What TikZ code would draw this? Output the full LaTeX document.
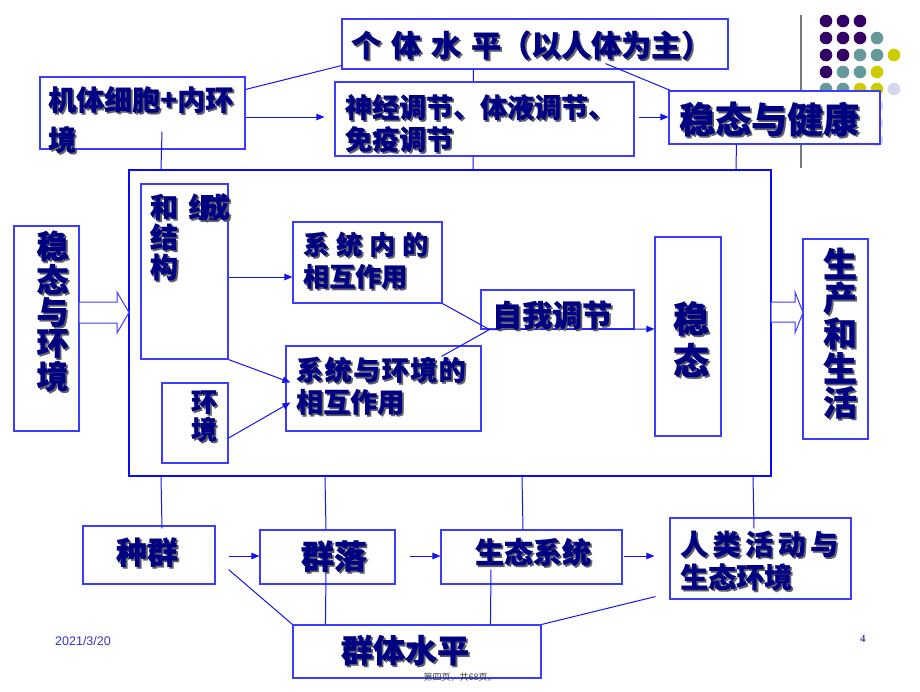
\documentclass[tikz,border=0pt]{standalone}
\usepackage{fontspec}
\usetikzlibrary{arrows.meta,calc}
\newfontfamily\cjk{Noto Sans CJK SC}[BoldFeatures={FakeBold=0.6}]
\newfontfamily\lsans{Liberation Sans}
\newfontfamily\lserif{Liberation Serif}
\definecolor{bx}{RGB}{60,60,255}
\definecolor{bigc}{RGB}{10,10,250}
\definecolor{ln}{RGB}{20,20,240}
\definecolor{tx}{RGB}{0,0,130}
\definecolor{shd}{RGB}{95,95,105}
\definecolor{dP}{RGB}{51,0,102}
\definecolor{dT}{RGB}{102,153,153}
\definecolor{dY}{RGB}{204,204,0}
\definecolor{dL}{RGB}{215,215,240}
\newcommand\sh[1]{\leavevmode\rlap{\kern1.8pt\raisebox{-1.8pt}{\textcolor{shd}{#1}}}#1}
\newcommand\fs[2]{\fontsize{#1}{#2}\selectfont}
\tikzset{
  box/.style={draw=bx, line width=1.1pt, fill=white, inner sep=0pt},
  blk/.style={draw=bx, line width=1pt, fill=white},
  txt/.style={text=tx, inner sep=0pt, align=left},
  ctxt/.style={text=tx, inner sep=0pt, align=center},
  conn/.style={draw=ln, line width=1pt},
  arr/.style={conn, -{Triangle[length=8pt,width=6.5pt]}},
}
\newcommand\bx[5]{\node[box, minimum width={(#4-#2)*1pt}, minimum height={(#5-#3)*1pt}] (#1) at ({(#2+#4)/2},{(#3+#5)/2}) {};}
\begin{document}
\begin{tikzpicture}[x=1pt,y=-1pt]
\useasboundingbox (0,0) rectangle (920,691);
\fill[white] (0,0) rectangle (920,691);
% decoration
\draw[color={rgb,255:red,120;green,120;blue,120}, line width=1.5pt] (801,15) -- (801,168);
\foreach \x/\y/\c in {826/21/dP,843/21/dP,860/21/dP,
  826/38/dP,843/38/dP,860/38/dP,877/38/dT,
  826/55/dP,843/55/dP,860/55/dT,877/55/dT,894/55/dY,
  826/72/dP,843/72/dT,860/72/dT,877/72/dY,
  826/89/dT,843/89/dT,860/89/dY,877/89/dY,894/89/dL,
  877/106/dL,877/123/dL,877/140/dL}
  \fill[\c] (\x,\y) circle (6.3);
% boxes
\bx{gt}{342}{19}{728}{69}
\node[draw=bigc, line width=2pt, fill=white, inner sep=0pt, minimum width=642pt, minimum height=306pt] (big) at (450,323) {};
\draw[conn] ($(gt.south west)+(132,0)$) -- ($(big.north west)+(345,0)$);
\bx{sj}{335}{82}{634}{156}
\bx{jt}{40}{77}{245}{149}
\bx{wj}{669}{91}{880}{144}
\bx{wh}{14}{226}{79}{431}
\bx{zc}{141}{184}{228}{359}
\bx{hj}{162}{383}{228}{463}
\bx{xn}{293}{222}{442}{303}
\bx{xh}{286}{346}{481}{431}
\bx{zw}{481}{290}{634}{329}
\bx{wt}{655}{237}{721}{436}
\bx{sc}{803}{239}{868}{439}
\bx{zq}{83}{526}{215}{584}
\bx{ql}{260}{530}{395}{584}
\bx{st}{441}{530}{622}{584}
\bx{rl}{670}{518}{851}{599}
\bx{qt}{293}{625}{541}{678}
\coordinate (m) at ($(zw.south west)+(9,0)$);
% block arrows
\draw[blk] (79,302) -- (117,302) -- (117,292) -- (129,312.5) -- (117,333) -- (117,323) -- (79,323) -- cycle;
\draw[blk] (771,302) -- (795,302) -- (795,292) -- (803,312.5) -- (795,333) -- (795,322) -- (771,322) -- cycle;
% connectors top
\draw[conn] ($(jt.north east)+(0,13)$) -- ($(gt.south west)+(0,-4)$);
\draw[conn] ($(gt.south west)+(264,-6)$) -- ($(wj.north west)+(2,0)$);
\draw[arr] ($(jt.east)+(0,4)$) -- ($(sj.west)+(-10,-2)$);
\draw[arr] ($(sj.east)+(4,-2)$) -- ($(wj.west)+(0,-0.5)$);
\draw[conn] ($(jt.south)+(19.5,-18)$) -- ($(big.north west)+(33,0)$);
\draw[conn] ($(wj.south west)+(68,0)$) -- ($(big.north west)+(608,0)$);
% inside
\draw[arr] ($(zc.east)+(0,5.5)$) -- ($(xn.west)+(0,14.5)$);
\draw[arr] (zc.south east) -- ($(xh.north west)+(5,37)$);
\draw[arr] ($(hj.east)+(0,15)$) -- ($(xh.north west)+(5,57)$);
\draw[conn] (xn.south east) -- (m);
\draw[conn] ($(xh.north east)+(-40,11)$) -- (m);
\draw[arr] (m) -- ($(wt.west)+(0,-7.5)$);
% bottom
\draw[conn] ($(big.south west)+(33,0)$) -- ($(zq.north)+(13,3)$);
\draw[conn] ($(big.south west)+(197,0)$) -- ($(ql.north)+(-1.5,0)$);
\draw[conn] ($(ql.south)+(-1.5,-14)$) -- ($(qt.north west)+(33,0)$);
\draw[conn] ($(big.south west)+(394,0)$) -- ($(st.north)+(-8.5,0)$);
\draw[conn] ($(st.south)+(-40.5,-15)$) -- ($(qt.north west)+(198,0)$);
\draw[conn] ($(big.south west)+(625,0)$) -- ($(rl.north)+(-6.5,11)$);
\draw[arr] ($(zq.east)+(13,1)$) -- ($(ql.west)+(0,-1)$);
\draw[arr] ($(ql.east)+(14,-1)$) -- ($(st.west)+(0,-1)$);
\draw[arr] ($(st.east)+(1,-1)$) -- ($(rl.west)+(-15,-2.5)$);
\draw[conn] ($(zq.south east)+(13,-15)$) -- (qt.north west);
\draw[conn] (qt.north east) -- ($(rl.south west)+(-14,-3)$);
% texts
\node[txt, anchor=west, font=\cjk\bfseries\fs{30}{36}] (tgt) at (351,46) {\sh{个\hspace{10pt}体\hspace{10pt}水\hspace{10pt}平（以人体为主）}};
\node[txt, anchor=north west, font=\cjk\bfseries\fs{28}{40}] (tjt) at (48,86) {\sh{机体细胞+内环}\\\sh{境}};
\node[txt, anchor=north west, font=\cjk\bfseries\fs{27}{32}] (tsj) at (345,94) {\sh{神经调节、体液调节、}\\\sh{免疫调节}};
\node[txt, anchor=west, font=\cjk\bfseries\fs{36}{40}] (twj) at (679,120) {\sh{稳态与健康}};
\node[ctxt, font=\cjk\bfseries\fs{32}{31}] (twh) at (52.5,312) {\sh{稳}\\\sh{态}\\\sh{与}\\\sh{环}\\\sh{境}};
\node[ctxt, font=\cjk\bfseries\fs{28}{30}] (tzc) at (164,238) {\sh{和}\\\sh{结}\\\sh{构}};
\node[ctxt, font=\cjk\bfseries\fs{28}{30}] (tzc2) at (209,208) {\sh{组}\kern-14pt\sh{成}};
\node[ctxt, font=\cjk\bfseries\fs{26}{26}] (thj) at (204,417) {\sh{环}\\\sh{境}};
\node[txt, anchor=north west, font=\cjk\bfseries\fs{26}{32}] (txn) at (303,231.5) {\sh{系\hspace{7pt}统\hspace{7pt}内\hspace{7pt}的}\\\sh{相互作用}};
\node[txt, anchor=north west, font=\cjk\bfseries\fs{27}{32}] (txh) at (296,356.5) {\sh{系\kern1.5pt统\kern1.5pt与\kern1.5pt环\kern1.5pt境\kern1.5pt的}\\\sh{相互作用}};
\node[txt, anchor=west, font=\cjk\bfseries\fs{30}{36}] (tzw) at (492,316) {\sh{自我调节}};
\node[ctxt, font=\cjk\bfseries\fs{36}{42}] (twt) at (691,340) {\sh{稳}\\\sh{态}};
\node[ctxt, font=\cjk\bfseries\fs{34}{34}] (tsc) at (840,334) {\sh{生}\\\sh{产}\\\sh{和}\\\sh{生}\\\sh{活}};
\node[ctxt, font=\cjk\bfseries\fs{31}{36}] (tzq) at (147,553) {\sh{种群}};
\node[ctxt, font=\cjk\bfseries\fs{33}{36}] (tql) at (334,557) {\sh{群落}};
\node[ctxt, font=\cjk\bfseries\fs{29}{36}] (tst) at (533,553) {\sh{生态系统}};
\node[txt, anchor=north west, font=\cjk\bfseries\fs{28}{33}] (trl) at (680,530.5) {\sh{人\hspace{4.5pt}类\hspace{4.5pt}活\hspace{4.5pt}动\hspace{4.5pt}与}\\\sh{生态环境}};
\node[ctxt, font=\cjk\bfseries\fs{32}{36}] (tqt) at (405,651) {\sh{群体水平}};
\node[anchor=west, inner sep=0pt, text={rgb,255:red,51;green,51;blue,204}, font=\lsans\fs{12.5}{14}] (tdate) at (55,641) {2021/3/20};
\node[anchor=west, inner sep=0pt, text=tx, font=\lserif\fs{11}{12}] (tpg) at (860,639) {4};
\node[inner sep=0pt, text={rgb,255:red,60;green,60;blue,60}, font=\cjk\fs{9}{10}] (tft) at (460,677) {第四页，共68页。};
\end{tikzpicture}
\end{document}
